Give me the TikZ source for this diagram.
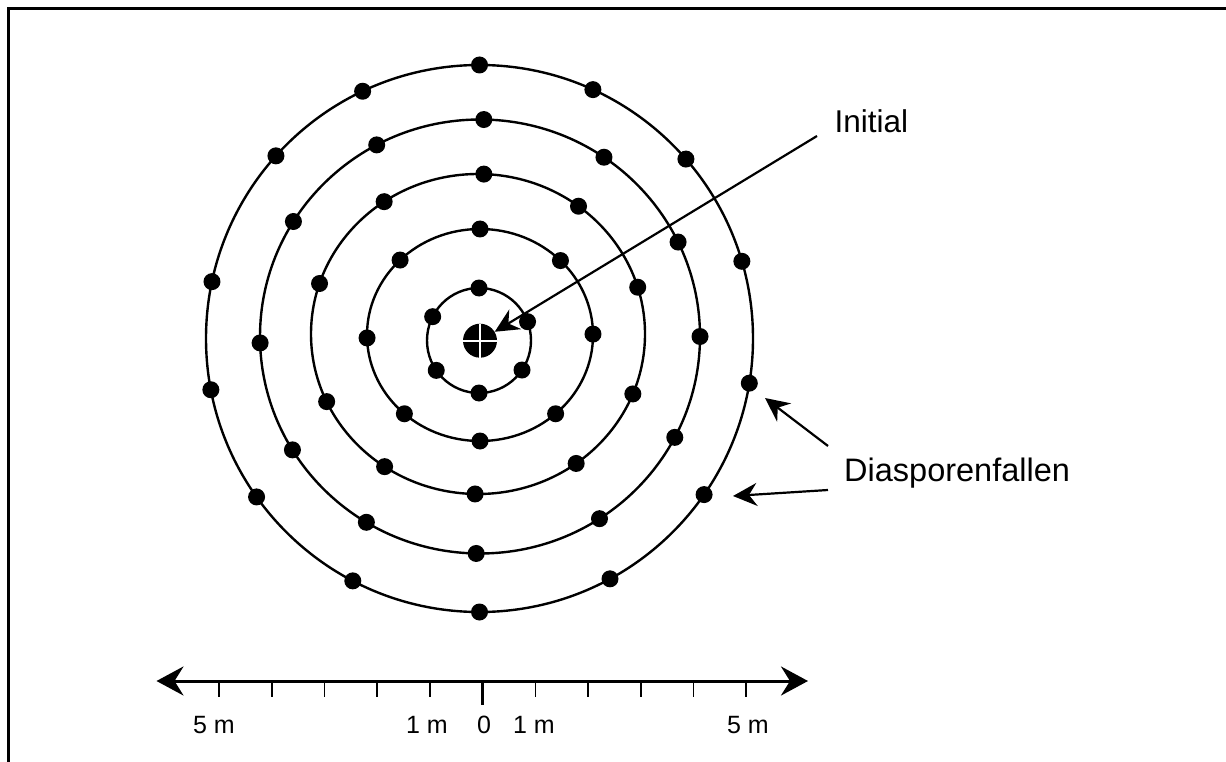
\documentclass[tikz,border=0pt]{standalone}
\usepackage{fontspec}
\setmainfont{Liberation Sans}
\usetikzlibrary{arrows.meta}
\begin{document}
\begin{tikzpicture}[x=1pt,y=-1pt,
  dot/.style={circle,fill=black,inner sep=0pt,minimum size=17pt},
  ring/.style={line width=2.4pt},
  conn/.style={line width=2.2pt,-{Stealth[length=24pt,width=23pt,inset=8pt]}},
  lbl/.style={font=\fontsize{31.5}{37}\selectfont,inner sep=0pt,anchor=base west},
  scl/.style={font=\fontsize{25}{30}\selectfont,inner sep=0pt,anchor=base},
  tickmark/.style={line width=1.7pt},
  axis/.style={line width=3pt,{Stealth[length=27pt,width=29pt,inset=9pt]}-{Stealth[length=27pt,width=29pt,inset=9pt]}},
]
\useasboundingbox (0,0) rectangle (1226,762);
% frame (top and left edges)
\draw[line width=2.7pt] (1226,8.7) -- (8.7,8.7) -- (8.7,762);

% rings and trap dots
\foreach \r/\cx/\cy/\rx/\ry/\angs in {
  1/479/340.5/52/52.5/{90,153,214.7,270,325.8,21},
  2/480/335/113/106/{90,135,181.6,228,270,312,0.5,44.6},
  3/478/334/167/160/{88,124.2,161.6,205,236,269,306,338,17,53},
  4/480/336.5/220/217/{89,118,148,181.7,211.5,238.9,269,302.9,332.3,0,25.8,55.7},
  5/479.5/338.5/273.5/273.5/{90,115.3,138.1,168,190.8,215.4,242.4,270,298.5,325.2,350.6,16.4,41,65.5}}{
  \draw[ring] (\cx,\cy) ellipse [x radius=\rx pt, y radius=\ry pt];
  \foreach \a [count=\i] in \angs {
    \path (\cx,\cy) ++({\rx*cos(\a)},{-\ry*sin(\a)}) node[dot] (d\r-\i) {};
  }
}

% initial (centre) marker
\node[circle,fill=black,inner sep=0pt,minimum size=34pt] (ctr) at (480,340.7) {};
\draw[white,line width=2pt] (ctr.west) -- (ctr.east) (ctr.north) -- (ctr.south);

% labels
\node[lbl] (init) at (834.5,133) {Initial};
\node[lbl,font=\fontsize{32.5}{38}\selectfont] (dias) at (844,481.7) {Diasporenfallen};

% connectors
\coordinate (ia) at (817,136);
\draw[conn] (ia) -- (ctr);
\coordinate (da1) at (828,446);
\coordinate (dt1) at (765,398);
\draw[conn] (da1) -- (dt1);
\coordinate (da2) at (828,490);
\coordinate (dt2) at (733,496);
\draw[conn] (da2) -- (dt2);

% scale axis
\coordinate (axl) at (156.5,681);
\coordinate (axr) at (808,681);
\draw[axis] (axl) -- (axr);
\foreach \k in {-5,-4,-3,-2,-1,1,2,3,4,5}
  \draw[tickmark] ({482.7+52.7*\k},681) -- ++(0,16);
\draw[line width=3pt] (482.7,681) -- (482.7,705);

\node[scl] (s5l) at (214,733.3) {5 m};
\node[scl] (s1l) at (427,733.3) {1 m};
\node[scl] (s0) at (484,733.3) {0};
\node[scl] (s1r) at (534,733.3) {1 m};
\node[scl] (s5r) at (748,733.3) {5 m};
\end{tikzpicture}
\end{document}
